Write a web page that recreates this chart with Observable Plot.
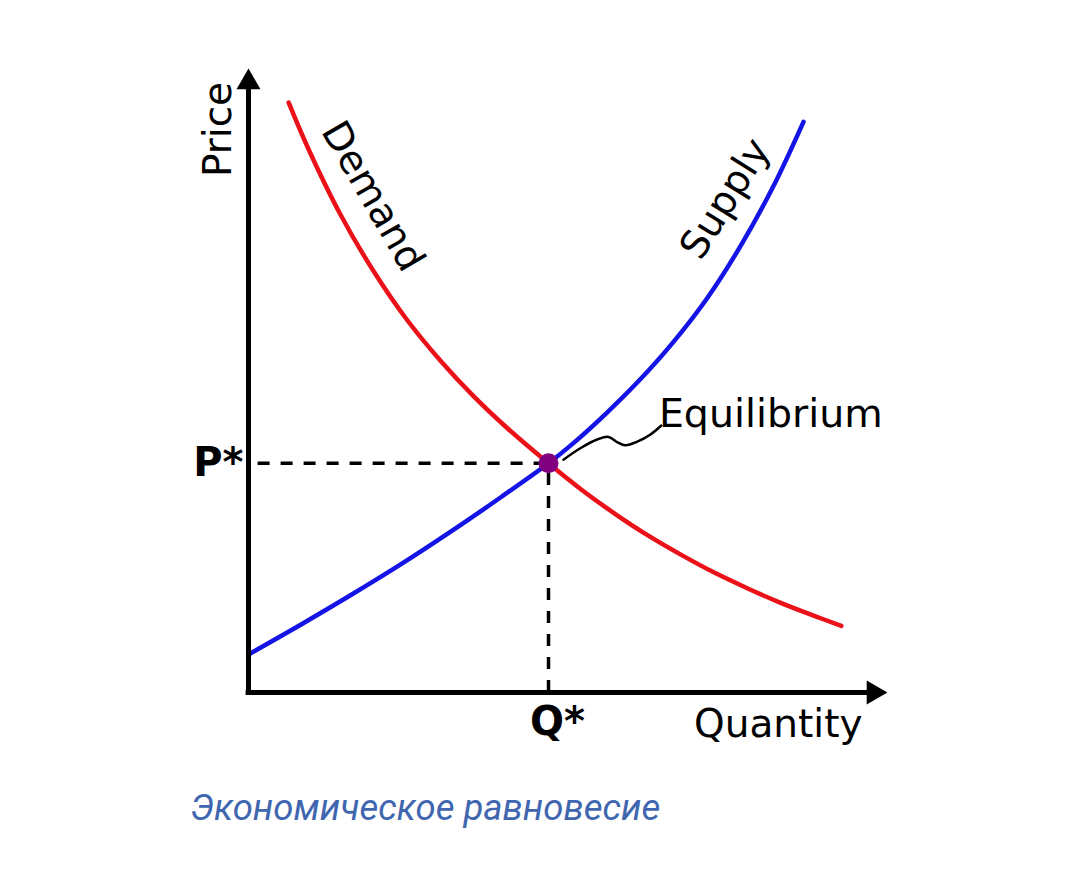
<!DOCTYPE html>
<html>
<head>
<meta charset="utf-8">
<script src="https://cdn.jsdelivr.net/npm/d3@7"></script>
<script src="https://cdn.jsdelivr.net/npm/@observablehq/plot@0.6"></script>
<style>
  html, body { margin: 0; padding: 0; background: #fff; }
  #wrap { position: relative; width: 1080px; height: 878px; overflow: hidden; }
  #chart svg { display: block; }
  #caption {
    position: absolute; left: 190px; top: 786px;
    font-family: Roboto, "Noto Sans", sans-serif; font-style: italic;
    font-size: 36.5px; color: #4066b0; white-space: nowrap;
  }
</style>
</head>
<body>
<div id="wrap">
  <div id="chart"></div>
  <div id="caption"></div>
</div>
<script>
// ---- data (quantity / price units) ----
const demandQ = [0.67, 0.98, 1.53, 2.08, 2.65, 3.20, 3.75, 4.32, 5.00, 5.55, 6.12, 6.67, 7.22, 7.78, 8.33, 8.88, 9.45, 9.88];
const demandP = [9.83, 9.10, 7.97, 7.03, 6.20, 5.53, 4.94, 4.40, 3.82, 3.38, 2.97, 2.61, 2.29, 1.99, 1.73, 1.49, 1.27, 1.11];

const supplyQ = [0.03, 0.87, 1.70, 2.53, 3.37, 4.20, 5.00, 5.42, 5.98, 6.53, 7.08, 7.65, 8.20, 8.75, 9.25];
const supplyP = [0.65, 1.13, 1.62, 2.13, 2.68, 3.25, 3.82, 4.16, 4.67, 5.22, 5.84, 6.58, 7.44, 8.44, 9.51];

const eqQ = 5.0;   // Q*
const eqP = 3.82;  // P*

// wiggly leader from the equilibrium point to its label
const leaderQ = [5.25, 5.53, 5.82, 6.00, 6.15, 6.28, 6.48, 6.70, 6.88];
const leaderP = [3.88, 4.07, 4.22, 4.26, 4.17, 4.12, 4.18, 4.30, 4.45];

const axisTitles = ["Price", "Quantity"];
const tickLabels = ["P*", "Q*"];
const curveLabels = ["Demand", "Supply"];
const pointLabel = "Equilibrium";
const captionText = "Экономическое равновесие";

// axis extents (arrow tips)
const xTip = 10.65;
const yTip = 10.4;

// ---- build tables ----
const demand = demandQ.map((q, i) => ({q, p: demandP[i]}));
const supply = supplyQ.map((q, i) => ({q, p: supplyP[i]}));
const leader = leaderQ.map((q, i) => ({q, p: leaderP[i]}));

const RED = "#ea1118";
const BLUE = "#1414e6";
const FONT = "DejaVu Sans";

const chart = Plot.plot({
  width: 1080,
  height: 770,
  marginLeft: 248,
  marginRight: 232,
  marginTop: 92,
  marginBottom: 78,
  x: {domain: [0, 10], axis: null},
  y: {domain: [0, 10], axis: null},
  style: {fontFamily: FONT, background: "white", overflow: "visible"},
  marks: [
    // dashed guides
    Plot.ruleY([eqP], {x1: 0.16, x2: eqQ, stroke: "black", strokeWidth: 3.5, strokeDasharray: "12,11"}),
    Plot.ruleX([eqQ], {y1: 0, y2: eqP, stroke: "black", strokeWidth: 3.5, strokeDasharray: "12,11"}),
    // curves
    Plot.line(supply, {x: "q", y: "p", stroke: BLUE, strokeWidth: 4.5, curve: "catmull-rom"}),
    Plot.line(demand, {x: "q", y: "p", stroke: RED, strokeWidth: 4.5, curve: "catmull-rom"}),
    // leader line
    Plot.line(leader, {x: "q", y: "p", stroke: "black", strokeWidth: 2.5, curve: "catmull-rom"}),
    // equilibrium point
    Plot.dot([{q: eqQ, p: eqP}], {x: "q", y: "p", r: 10, fill: "#800080", stroke: "none"}),
    // axes
    Plot.ruleY([0], {x1: -0.04, x2: xTip - 0.2, stroke: "black", strokeWidth: 5}),
    Plot.ruleX([0], {y1: -0.04, y2: yTip - 0.2, stroke: "black", strokeWidth: 5}),
    Plot.dot([0], {x: xTip, y: 0, symbol: "triangle", r: 8.9, rotate: 90, dx: -13.9, fill: "black", stroke: "none"}),
    Plot.dot([0], {x: 0, y: yTip, symbol: "triangle", r: 8.9, dy: 13.9, fill: "black", stroke: "none"}),
    // axis titles
    Plot.text([axisTitles[0]], {x: 0, y: yTip, text: d => d, rotate: -90, dx: -30, dy: 61,
      fontSize: 39, textAnchor: "middle", lineAnchor: "middle", fill: "black"}),
    Plot.text([axisTitles[1]], {x: xTip, y: 0, text: d => d, dx: -25, dy: 32,
      fontSize: 39, textAnchor: "end", lineAnchor: "middle", fill: "black"}),
    // P*, Q*
    Plot.text([tickLabels[0]], {x: 0, y: eqP, text: d => d, dx: -5, dy: 0,
      fontSize: 40, fontWeight: "bold", textAnchor: "end", lineAnchor: "middle", fill: "black"}),
    Plot.text([tickLabels[1]], {x: eqQ, y: 0, text: d => d, dx: 9, dy: 30,
      fontSize: 40, fontWeight: "bold", textAnchor: "middle", lineAnchor: "middle", fill: "black"}),
    // curve labels
    Plot.text([curveLabels[0]], {x: 2.07, y: 8.27, text: d => d, rotate: 60,
      fontSize: 39, textAnchor: "middle", lineAnchor: "middle", fill: "black"}),
    Plot.text([curveLabels[1]], {x: 7.95, y: 8.23, text: d => d, rotate: -58,
      fontSize: 39, textAnchor: "middle", lineAnchor: "middle", fill: "black"}),
    // equilibrium label
    Plot.text([pointLabel], {x: 6.84, y: 4.64, text: d => d,
      fontSize: 39.5, textAnchor: "start", lineAnchor: "middle", fill: "black"})
  ]
});

document.getElementById("chart").appendChild(chart);
document.getElementById("caption").textContent = captionText;
</script>
</body>
</html>
